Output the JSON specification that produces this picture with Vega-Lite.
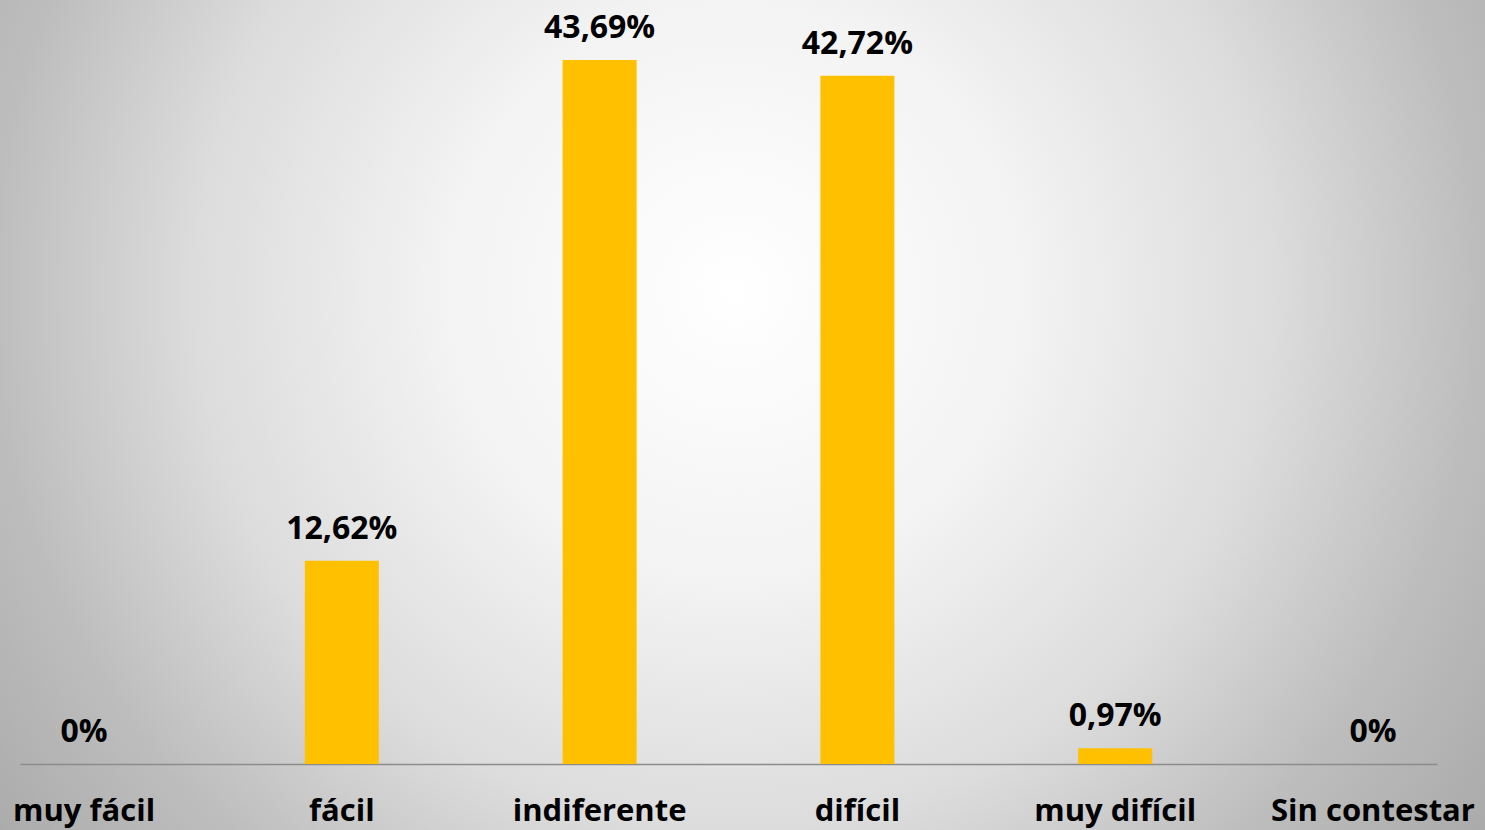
{
  "$schema": "https://vega.github.io/schema/vega-lite/v6.json",
  "width": 1485,
  "height": 830,
  "autosize": {"type": "none"},
  "padding": 0,
  "background": "#bdbdbd",
  "view": {
    "stroke": null,
    "fill": {
      "gradient": "radial",
      "x1": 0.495, "y1": 0.416, "r1": 0,
      "x2": 0.495, "y2": 0.416, "r2": 0.65,
      "stops": [
        {"offset": 0, "color": "#ffffff"},
        {"offset": 0.3, "color": "#f3f3f3"},
        {"offset": 0.56, "color": "#dcdcdc"},
        {"offset": 0.77, "color": "#bdbdbd"},
        {"offset": 0.95, "color": "#ababab"},
        {"offset": 1, "color": "#a9a9a9"}
      ]
    }
  },
  "data": {
    "values": [
      {"categoria": "muy fácil", "valor": 0, "etiqueta": "0%"},
      {"categoria": "fácil", "valor": 12.62, "etiqueta": "12,62%"},
      {"categoria": "indiferente", "valor": 43.69, "etiqueta": "43,69%"},
      {"categoria": "difícil", "valor": 42.72, "etiqueta": "42,72%"},
      {"categoria": "muy difícil", "valor": 0.97, "etiqueta": "0,97%"},
      {"categoria": "Sin contestar", "valor": 0, "etiqueta": "0%"}
    ]
  },
  "encoding": {
    "x": {
      "field": "categoria",
      "type": "nominal",
      "sort": null,
      "scale": {"range": [20, 1437], "paddingInner": 0.713, "paddingOuter": 0.105},
      "axis": {
        "title": null,
        "orient": "bottom",
        "offset": -66,
        "domainColor": "#8c8c8c",
        "domainWidth": 1.5,
        "ticks": false,
        "grid": false,
        "labelFont": "Open Sans",
        "labelFontSize": 31,
        "labelFontWeight": "bold",
        "labelColor": "#000000",
        "labelBaseline": "alphabetic",
        "labelPadding": 56,
        "labelAngle": 0,
        "labelOverlap": false,
        "labelLimit": 400
      }
    },
    "y": {
      "field": "valor",
      "type": "quantitative",
      "scale": {"domain": [0, 47.42], "range": [764, 0], "nice": false},
      "axis": null
    }
  },
  "layer": [
    {"mark": {"type": "bar", "color": "#FFC000"}},
    {
      "mark": {
        "type": "text",
        "baseline": "alphabetic",
        "dy": -22,
        "font": "Open Sans",
        "fontSize": 32,
        "fontWeight": "bold",
        "color": "#000000"
      },
      "encoding": {"text": {"field": "etiqueta"}}
    }
  ]
}
